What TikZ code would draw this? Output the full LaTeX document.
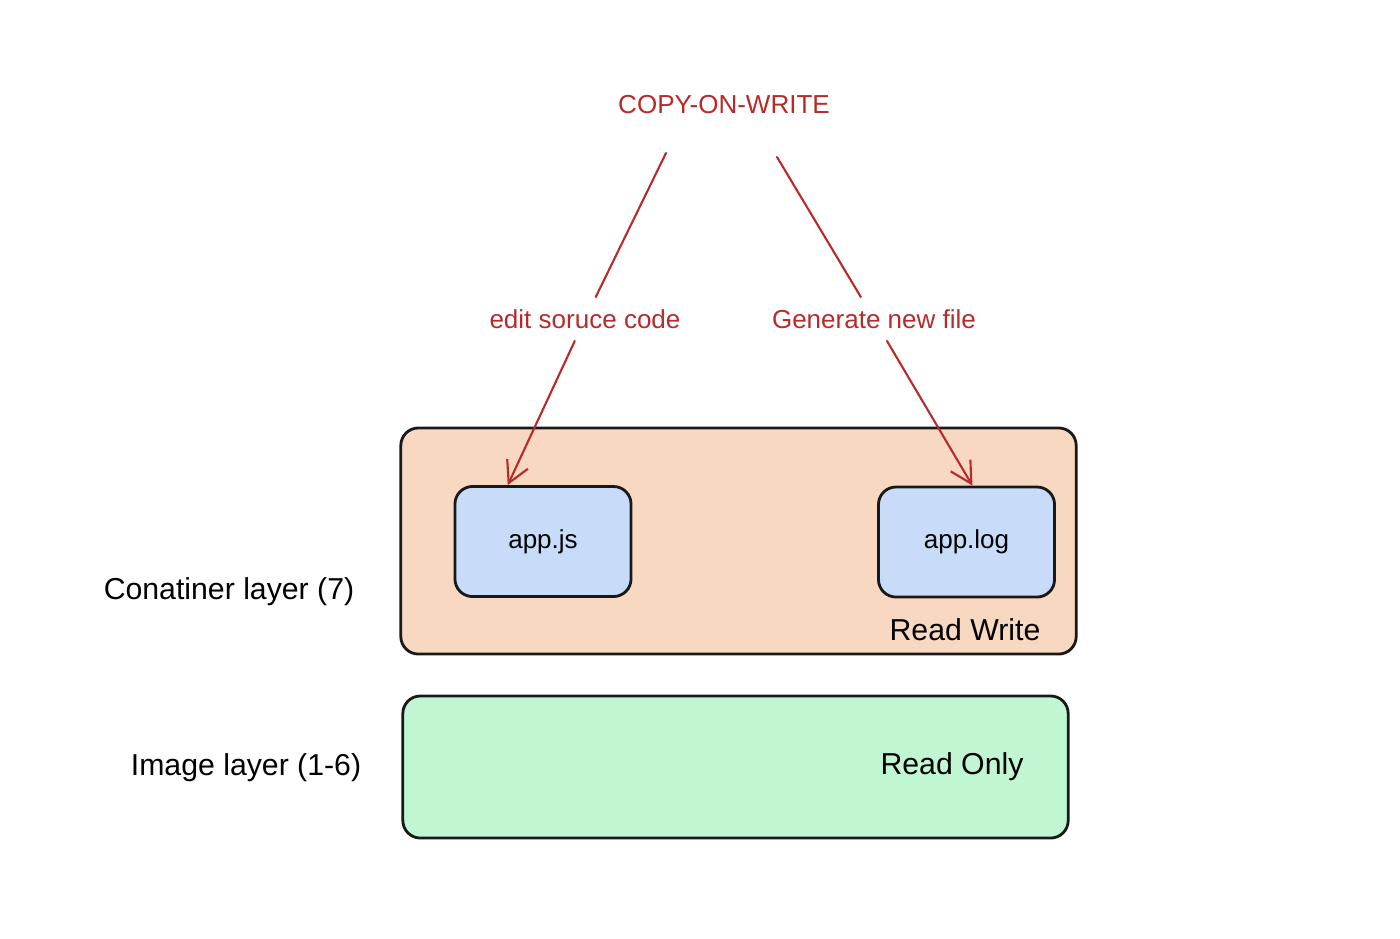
\documentclass[tikz,border=0pt]{standalone}
\usepackage{fontspec}
\setmainfont{Liberation Sans}
\usepackage{xcolor}
\usetikzlibrary{arrows.meta,positioning}
\definecolor{cowred}{RGB}{184,42,42}
\definecolor{rwfill}{RGB}{248,216,192}
\definecolor{rofill}{RGB}{192,247,210}
\definecolor{filefill}{RGB}{200,220,249}
\tikzset{
  layerbox/.style={draw=black!90,line width=0.8pt,rounded corners=5pt},
  filebox/.style={draw=black!90,line width=0.8pt,rounded corners=5pt,fill=filefill,
    minimum width=1.76cm,minimum height=1.1cm,font=\fontsize{7.4}{9}\selectfont},
  redlabel/.style={text=cowred,font=\fontsize{7.4}{9}\selectfont},
  bigtext/.style={font=\fontsize{8.6}{10}\selectfont},
  cowline/.style={draw=cowred,line width=0.6pt}
}
\begin{document}
\begin{tikzpicture}[x=0.01cm,y=-0.01cm,line cap=round]
  \useasboundingbox (0,0) rectangle (1400,938);
  % layers
  \node[layerbox,fill=rwfill,minimum width=6.75cm,minimum height=2.26cm] (rw) at (738.5,541) {};
  \node[layerbox,fill=rofill,minimum width=6.65cm,minimum height=1.42cm] (ro) at (735.5,767) {};
  \node[bigtext] (rwtext) at (965,630) {Read Write};
  \node[bigtext] (rotext) at (952,767) {Read Only};
  \node[bigtext] (contlayer) at (229,592) {Conatiner layer (7)};
  \node[bigtext] (imglayer) at (246,768) {Image layer (1-6)};
  % files
  \node[filebox] (appjs) at (543,541.5) {app.js};
  \node[filebox] (applog) at (966.5,542) {app.log};
  % copy on write
  \node[redlabel] (cow) at (724,105) {COPY-ON-WRITE};
  \node[redlabel] (edit) at (585,319) {edit soruce code};
  \node[redlabel] (gen) at (874,319) {Generate new file};
  \coordinate (cowL) at (666,153);
  \coordinate (cowR) at (777,157);
  \draw[cowline] (cowL) -- (edit);
  \draw[cowline,-{Straight Barb[length=6pt,width=6.5pt]}] (edit) -- (appjs.122);
  \draw[cowline] (cowR) -- (gen);
  \draw[cowline,-{Straight Barb[length=6pt,width=6.5pt]}] (gen) -- (applog.84);
\end{tikzpicture}
\end{document}
